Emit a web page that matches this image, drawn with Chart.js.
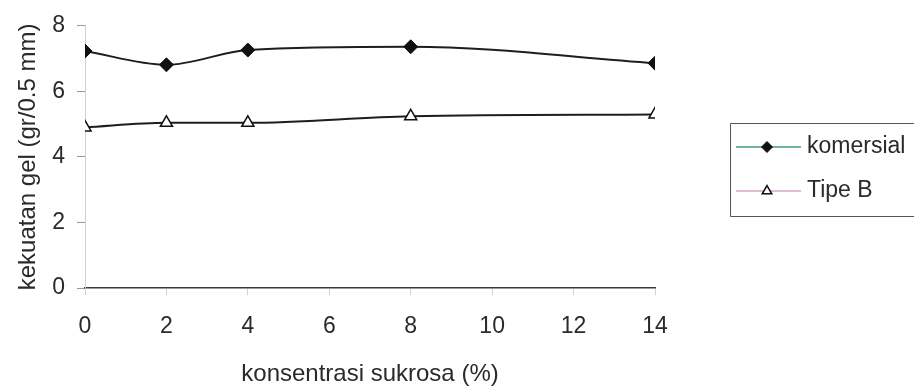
<!DOCTYPE html>
<html>
<head>
<meta charset="utf-8">
<script src="https://cdn.jsdelivr.net/npm/chart.js@4/dist/chart.umd.min.js"></script>
<style>
  html, body { margin: 0; padding: 0; background: #fff; overflow: hidden; }
  #wrap { width: 914px; height: 389px; position: relative; }
</style>
</head>
<body>
<div id="wrap"><canvas id="c" width="914" height="389"></canvas></div>
<script>
// sucrose concentration (%) on the x axis
const sukrosa = [0, 2, 4, 8, 14];
// gel strength (gr/0.5 mm)
const komersial = [7.23, 6.81, 7.26, 7.36, 6.86];
const tipeB = [4.90, 5.04, 5.04, 5.24, 5.29];
const xTicks = [0, 2, 4, 6, 8, 10, 12, 14];
const yTicks = [0, 2, 4, 6, 8];

const FONT = "'Liberation Sans', Arial, sans-serif";
const TEXT = '#2a2a2a';

const toPoints = (ys) => sukrosa.map((x, i) => ({ x: x, y: ys[i] }));

// boxed key (open to the right edge): a line sample with the series marker, then the name
const keyLegend = {
  id: 'keyLegend',
  afterDraw(chart) {
    const ctx = chart.ctx;
    const W = chart.width;
    ctx.save();
    ctx.strokeStyle = '#555';
    ctx.lineWidth = 1;
    ctx.beginPath();
    ctx.moveTo(W, 123.5);
    ctx.lineTo(730.5, 123.5);
    ctx.lineTo(730.5, 216.5);
    ctx.lineTo(W, 216.5);
    ctx.stroke();
    const rows = [
      { ds: chart.data.datasets[0], y: 147, line: '#3f9a80' },
      { ds: chart.data.datasets[1], y: 191, line: '#d7a3c4' }
    ];
    rows.forEach(r => {
      ctx.strokeStyle = r.line;
      ctx.lineWidth = 1.5;
      ctx.beginPath();
      ctx.moveTo(736, r.y);
      ctx.lineTo(801, r.y);
      ctx.stroke();
      ctx.fillStyle = r.ds.pointBackgroundColor;
      ctx.strokeStyle = r.ds.pointBorderColor;
      ctx.lineWidth = r.ds.pointBorderWidth;
      Chart.helpers.drawPoint(ctx, {
        pointStyle: r.ds.pointStyle,
        radius: r.ds.pointRadius - 1.5,
        borderWidth: r.ds.pointBorderWidth,
        rotation: 0
      }, 767, r.y);
      ctx.fillStyle = TEXT;
      ctx.font = '23px ' + FONT;
      ctx.textBaseline = 'middle';
      ctx.textAlign = 'left';
      ctx.fillText(r.ds.label, 807, r.y);
    });
    ctx.restore();
  }
};

new Chart(document.getElementById('c'), {
  type: 'line',
  data: {
    datasets: [
      {
        label: 'komersial',
        data: toPoints(komersial),
        borderColor: '#1e1e1e',
        borderWidth: 2,
        cubicInterpolationMode: 'monotone',
        pointStyle: 'rectRot',
        pointRadius: 7,
        pointBackgroundColor: '#111',
        pointBorderColor: '#111',
        pointBorderWidth: 1
      },
      {
        label: 'Tipe B',
        data: toPoints(tipeB),
        borderColor: '#1e1e1e',
        borderWidth: 2,
        cubicInterpolationMode: 'monotone',
        pointStyle: 'triangle',
        pointRadius: 7,
        pointBackgroundColor: '#ffffff',
        pointBorderColor: '#111',
        pointBorderWidth: 1.5
      }
    ]
  },
  options: {
    responsive: false,
    animation: false,
    layout: { padding: { top: 24, right: 259, left: 14, bottom: 0 } },
    plugins: {
      legend: { display: false },
      tooltip: { enabled: false }
    },
    scales: {
      x: {
        type: 'linear',
        min: 0,
        max: 14,
        afterBuildTicks: (s) => { s.ticks = xTicks.map(v => ({ value: v })); },
        afterFit: (s) => { s.height = 101; },
        grid: {
          display: true,
          drawOnChartArea: false,
          drawTicks: true,
          tickLength: 7,
          color: '#d2d2d2'
        },
        border: { display: true, color: '#3a3a3a', width: 1.5 },
        ticks: {
          color: TEXT,
          font: { family: FONT, size: 23 },
          padding: 18,
          maxRotation: 0
        },
        title: {
          display: true,
          text: 'konsentrasi sukrosa (%)',
          color: TEXT,
          font: { family: FONT, size: 24 },
          padding: { top: 12, bottom: 0 }
        }
      },
      y: {
        min: 0,
        max: 8,
        afterBuildTicks: (s) => { s.ticks = yTicks.map(v => ({ value: v })); },
        afterFit: (s) => { s.width = 71; },
        grid: {
          display: true,
          drawOnChartArea: false,
          drawTicks: true,
          tickLength: 8,
          color: '#9a9a9a'
        },
        border: { display: true, color: '#d0d0d0', width: 1 },
        ticks: {
          color: TEXT,
          font: { family: FONT, size: 23 },
          padding: 12
        },
        title: {
          display: true,
          text: 'kekuatan gel (gr/0.5 mm)',
          color: TEXT,
          font: { family: FONT, size: 24 },
          padding: { top: 0, bottom: 2 }
        }
      }
    }
  },
  plugins: [keyLegend]
});
</script>
</body>
</html>
